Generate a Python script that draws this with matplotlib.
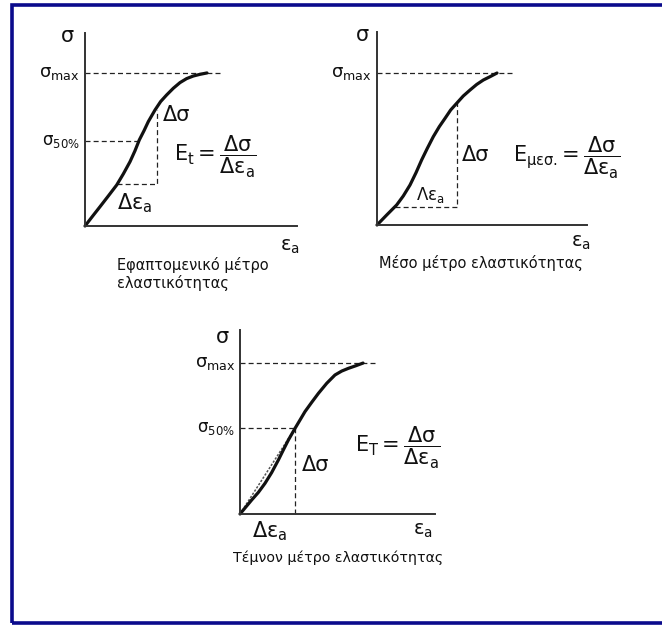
import matplotlib
matplotlib.use("Agg")
import matplotlib.pyplot as plt
from matplotlib.patches import Rectangle

plt.rcParams['font.family'] = ['DejaVu Sans']
plt.rcParams['mathtext.fontset'] = 'dejavusans'

W, H = 662, 626

# stress-strain curves: strain scaled so the peak sits at 1, stress as a fraction of sigma_max
tan_eps = [0.0, 0.063, 0.123, 0.191, 0.260, 0.314, 0.369, 0.410, 0.445, 0.484,
           0.519, 0.574, 0.620, 0.669, 0.724, 0.779, 0.833, 0.888, 0.943, 1.0]
tan_sig = [0.0, 0.065, 0.126, 0.196, 0.268, 0.340, 0.420, 0.492, 0.562, 0.623,
           0.682, 0.758, 0.813, 0.856, 0.900, 0.937, 0.963, 0.980, 0.991, 1.0]

avg_eps = [0.0, 0.081, 0.164, 0.219, 0.275, 0.325, 0.372, 0.419, 0.469, 0.519,
           0.567, 0.614, 0.664, 0.719, 0.775, 0.831, 0.886, 0.942, 1.0]
avg_sig = [0.0, 0.066, 0.132, 0.191, 0.263, 0.344, 0.428, 0.504, 0.581, 0.647,
           0.702, 0.757, 0.801, 0.849, 0.888, 0.925, 0.954, 0.976, 1.0]

sec_eps = [0.0, 0.095, 0.149, 0.203, 0.257, 0.312, 0.352, 0.393, 0.447, 0.488,
           0.528, 0.583, 0.637, 0.705, 0.772, 0.827, 0.881, 0.941, 1.0]
sec_sig = [0.0, 0.093, 0.143, 0.203, 0.274, 0.358, 0.424, 0.490, 0.567, 0.623,
           0.678, 0.740, 0.799, 0.866, 0.921, 0.947, 0.965, 0.982, 1.0]

sig_max = 1.0
tan_sig50 = 0.556
sec_sig50 = 0.567

# tangent triangle: lower and upper corner on the curve
tan_tri = [(0.262, 0.275), (0.590, 0.758)]
# average-modulus triangle
avg_tri = [(0.150, 0.118), (0.667, 0.803)]
# secant end point at sigma_50%
sec_pt = (0.447, 0.567)

captions = ["Εφαπτομενικό μέτρο\nελαστικότητας",
            "Μέσο μέτρο ελαστικότητας",
            "Τέμνον μέτρο ελαστικότητας"]

INK = '#111111'
DASH = dict(color='#222222', lw=0.9, ls=(0, (4, 2.5)), clip_on=False)


def fx(px):
    return px / W


def fy(py):
    return 1 - py / H


def make_axes(fig, left, bottom, right, top, xmax, ymax):
    ax = fig.add_axes([fx(left), fy(bottom), (right - left) / W, (bottom - top) / H])
    ax.set_xlim(0, xmax)
    ax.set_ylim(0, ymax)
    for s in ('top', 'right'):
        ax.spines[s].set_visible(False)
    for s in ('left', 'bottom'):
        ax.spines[s].set_linewidth(1.4)
        ax.spines[s].set_color('#333333')
    ax.set_xticks([])
    ax.set_yticks([])
    ax.patch.set_alpha(0)
    return ax


def label(fig, px, py, s, size=15, ha='left', va='center'):
    fig.text(fx(px), fy(py), s, fontsize=size, ha=ha, va=va, color=INK)


def m(s):
    # upright math text
    return r'$\mathregular{' + s + '}$'


fig = plt.figure(figsize=(W / 100, H / 100), dpi=100)

# outer frame
fig.patches.append(Rectangle((fx(12), fy(623)), 1.0, (623 - 5) / H,
                             transform=fig.transFigure, fill=False,
                             edgecolor='#0a0a8c', lw=2.6))

FRAC = r'\dfrac{Δσ}{Δε_a}'

# --- tangent modulus ---
ax1 = make_axes(fig, 85, 226, 297, 33, 1.738, 1.261)
ax1.plot([0, 1.107], [sig_max, sig_max], **DASH)
ax1.plot([0, 0.443], [tan_sig50, tan_sig50], **DASH)
(x0, y0), (x1, y1) = tan_tri
ax1.plot([x0, x1, x1], [y0, y0, y1], **DASH)
ax1.plot(tan_eps, tan_sig, color=INK, lw=2.3, clip_on=False,
         solid_capstyle='round', solid_joinstyle='round')

label(fig, 67, 36, 'σ', 15, ha='center')
label(fig, 80, 73, m('σ_{max}'), 13, ha='right')
label(fig, 80, 141, m('σ_{50\\%}'), 12, ha='right')
label(fig, 163, 115, 'Δσ', 15)
label(fig, 174, 157, m('E_t = ' + FRAC), 15)
label(fig, 117, 203, m('Δε_a'), 15)
label(fig, 290, 246, m('ε_a'), 14, ha='center')
label(fig, 117, 274, captions[0], 10.5)

# --- average modulus ---
ax2 = make_axes(fig, 377, 225, 587, 32, 1.75, 1.27)
ax2.plot([0, 1.133], [sig_max, sig_max], **DASH)
(x0, y0), (x1, y1) = avg_tri
ax2.plot([x0, x1, x1], [y0, y0, y1], **DASH)
ax2.plot(avg_eps, avg_sig, color=INK, lw=2.3, clip_on=False,
         solid_capstyle='round', solid_joinstyle='round')

label(fig, 362, 35, 'σ', 15, ha='center')
label(fig, 372, 73, m('σ_{max}'), 13, ha='right')
label(fig, 462, 155, 'Δσ', 15)
label(fig, 513, 158, m(r'E_{μεσ.}\!= ' + FRAC), 15)
label(fig, 416, 195, m('Λε_a'), 12)
label(fig, 581, 242, m('ε_a'), 14, ha='center')
label(fig, 379, 263, captions[1], 10.5)

# --- secant modulus ---
ax3 = make_axes(fig, 240, 514, 435, 330, 1.585, 1.219)
ax3.plot([0, 1.10], [sig_max, sig_max], **DASH)
ax3.plot([0, sec_pt[0]], [sec_sig50, sec_sig50], **DASH)
ax3.plot([sec_pt[0], sec_pt[0]], [0, sec_sig50], **DASH)
ax3.plot([0, sec_pt[0]], [0, sec_pt[1]], color='#555555', lw=1.1,
         ls=(0, (1.5, 1)), clip_on=False)
ax3.plot(sec_eps, sec_sig, color=INK, lw=2.3, clip_on=False,
         solid_capstyle='round', solid_joinstyle='round')

label(fig, 222, 337, 'σ', 15, ha='center')
label(fig, 236, 363, m('σ_{max}'), 13, ha='right')
label(fig, 235, 428, m('σ_{50\\%}'), 12, ha='right')
label(fig, 302, 465, 'Δσ', 15)
label(fig, 355, 448, m('E_T = ' + FRAC), 15)
label(fig, 252, 531, m('Δε_a'), 15)
label(fig, 423, 531, m('ε_a'), 14, ha='center')
label(fig, 233, 558, captions[2], 10.2)

fig.savefig('out.png', dpi=100)
